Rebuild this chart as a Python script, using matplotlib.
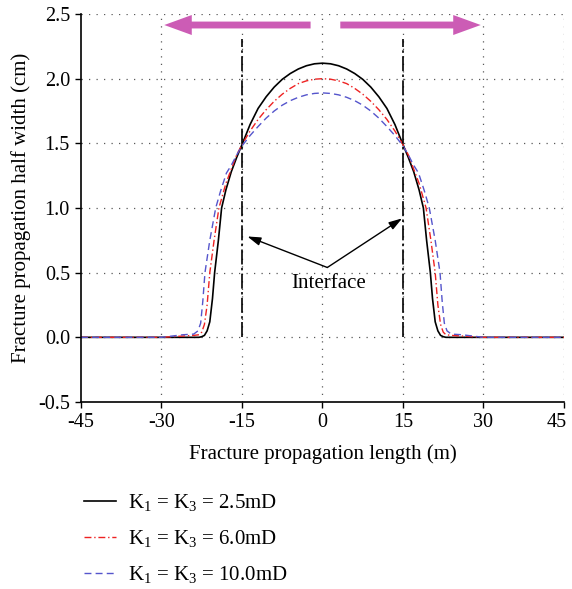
import matplotlib
matplotlib.use("Agg")
import matplotlib.pyplot as plt
from matplotlib.transforms import ScaledTranslation

plt.rcParams['font.family'] = ['Liberation Serif', 'DejaVu Serif']
plt.rcParams['mathtext.fontset'] = 'custom'
plt.rcParams['mathtext.rm'] = 'Liberation Serif'
plt.rcParams['mathtext.it'] = 'Liberation Serif:italic'
plt.rcParams['axes.unicode_minus'] = False

# Data (symmetric about x = 0)
x_k25 = [-45, -23, -22.5, -22, -21.5, -21, -20.5, -20.1, -19.4, -18.8, -18, -17, -16, -15,
         -13.5, -12, -10.5, -9, -7.5, -6, -4.5, -3, -1.5, 0,
         1.5, 3, 4.5, 6, 7.5, 9, 10.5, 12, 13.5,
         15, 16, 17, 18, 18.8, 19.4, 20.1, 20.5, 21, 21.5, 22, 22.5, 23, 45]
y_k25 = [0, 0, 0.005, 0.015, 0.05, 0.12, 0.30, 0.50, 0.75, 1.00, 1.14, 1.28, 1.39, 1.49,
         1.645, 1.77, 1.86, 1.935, 1.995, 2.04, 2.075, 2.10, 2.115, 2.12,
         2.115, 2.10, 2.075, 2.04, 1.995, 1.935, 1.86, 1.77, 1.645,
         1.49, 1.39, 1.28, 1.14, 1.00, 0.75, 0.50, 0.30, 0.12, 0.05, 0.015, 0.005, 0, 0]

x_k60 = [-45, -30, -28, -26, -24, -23, -22.5, -22, -21.5, -21, -20.2, -19.3, -18, -17, -16, -15,
         -13.5, -12, -10.5, -9, -7.5, -6, -4.5, -3, -1.5, 0,
         1.5, 3, 4.5, 6, 7.5, 9, 10.5, 12, 13.5,
         15, 16, 17, 18, 19.3, 20.2, 21, 21.5, 22, 22.5, 23, 24, 26, 28, 30, 45]
y_k60 = [0, 0, 0.005, 0.01, 0.015, 0.02, 0.04, 0.10, 0.25, 0.50, 0.75, 1.00, 1.19, 1.30, 1.41, 1.49,
         1.595, 1.685, 1.76, 1.825, 1.88, 1.925, 1.962, 1.983, 1.996, 2.00,
         1.996, 1.983, 1.962, 1.925, 1.88, 1.825, 1.76, 1.685, 1.595,
         1.49, 1.41, 1.30, 1.19, 1.00, 0.75, 0.50, 0.25, 0.10, 0.04, 0.02, 0.015, 0.01, 0.005, 0, 0]

x_k100 = [-45, -30, -28, -26, -24, -23.2, -22.7, -22.3, -21.9, -21, -19.9, -19, -17.9, -17, -16, -15,
          -13.5, -12, -10.5, -9, -7.5, -6, -4.5, -3, -1.5, 0,
          1.5, 3, 4.5, 6, 7.5, 9, 10.5, 12, 13.5,
          15, 16, 17, 17.9, 19, 19.9, 21, 21.9, 22.3, 22.7, 23.2, 24, 26, 28, 30, 45]
y_k100 = [0, 0, 0.01, 0.02, 0.025, 0.05, 0.11, 0.28, 0.50, 0.75, 1.00, 1.13, 1.27, 1.33, 1.41, 1.48,
          1.56, 1.63, 1.695, 1.75, 1.795, 1.83, 1.856, 1.875, 1.886, 1.89,
          1.886, 1.875, 1.856, 1.83, 1.795, 1.75, 1.695, 1.63, 1.56,
          1.48, 1.41, 1.33, 1.27, 1.13, 1.00, 0.75, 0.50, 0.28, 0.11, 0.05, 0.025, 0.02, 0.01, 0, 0]

labels = [r"K$_1$ = K$_3$ = 2.5mD", r"K$_1$ = K$_3$ = 6.0mD", r"K$_1$ = K$_3$ = 10.0mD"]
interface_x = [-15, 15]
xticks = [-45, -30, -15, 0, 15, 30, 45]
yticks = [-0.5, 0.0, 0.5, 1.0, 1.5, 2.0, 2.5]

fig = plt.figure(figsize=(5.72, 5.89), dpi=100)
ax = fig.add_axes([0.1416, 0.3175, 0.8444, 0.6587])

grid_kw = dict(color='0.35', lw=0.9, ls=(0, (1, 5)), zorder=0)
for xv in xticks[1:]:
    ax.axvline(xv, **grid_kw)
for yv in yticks[1:]:
    ax.axhline(yv, **grid_kw)

l1, = ax.plot(x_k25, y_k25, color='black', lw=1.2)
l2, = ax.plot(x_k60, y_k60, color='#ee2222', lw=1.0, ls=(0, (5, 2, 1, 2)))
l3, = ax.plot(x_k100, y_k100, color='#5555cc', lw=1.0, ls=(0, (5, 3)))

# interface lines
for xv in interface_x:
    ax.plot([xv, xv], [0, 2.31], color='black', lw=1.2, ls=(0, (9, 2, 1.5, 2)))

# propagation arrows
arrow_kw = dict(arrowstyle='simple,head_width=1.6,head_length=2.2,tail_width=0.55',
                color='#cc5cb5', mutation_scale=9, lw=0)
ax.annotate('', xy=(-30, 2.415), xytext=(-1.7, 2.415), arrowprops=arrow_kw)
ax.annotate('', xy=(30, 2.415), xytext=(2.8, 2.415), arrowprops=arrow_kw)

# interface annotation
ax.text(1.1, 0.42, "Interface", ha='center', va='center', fontsize=15)
ann_kw = dict(arrowstyle='-|>,head_width=0.25,head_length=0.8', color='black', lw=1.0,
              shrinkA=0, shrinkB=0)
ax.annotate('', xy=(-14.0, 0.78), xytext=(0.9, 0.54), arrowprops=ann_kw)
ax.annotate('', xy=(14.85, 0.92), xytext=(0.9, 0.54), arrowprops=ann_kw)

ax.set_xlim(-45, 45)
ax.set_ylim(-0.5, 2.5)
ax.set_xticks(xticks)
ax.set_xticklabels([str(v) for v in xticks])
ax.set_yticks(yticks)
ax.set_yticklabels([f"{v:.1f}" for v in yticks])
ax.tick_params(direction='out', length=4, width=1, labelsize=14.5, pad=4)
# keep the last x label inside the canvas
last = ax.get_xticklabels()[-1]
last.set_transform(last.get_transform() + ScaledTranslation(-5 / 72, 0, fig.dpi_scale_trans))
for s in ['top', 'right']:
    ax.spines[s].set_visible(False)
for s in ['left', 'bottom']:
    ax.spines[s].set_linewidth(1.2)

ax.set_xlabel("Fracture propagation length (m)", fontsize=15, labelpad=9)
ax.set_ylabel("Fracture propagation half width (cm)", fontsize=15, labelpad=5)

fig.legend([l1, l2, l3], labels, loc='upper left', bbox_to_anchor=(0.128, 0.182),
           frameon=False, fontsize=15, handlelength=1.55, handletextpad=0.6,
           labelspacing=0.72, borderpad=0)

fig.savefig("out.png", dpi=100)
